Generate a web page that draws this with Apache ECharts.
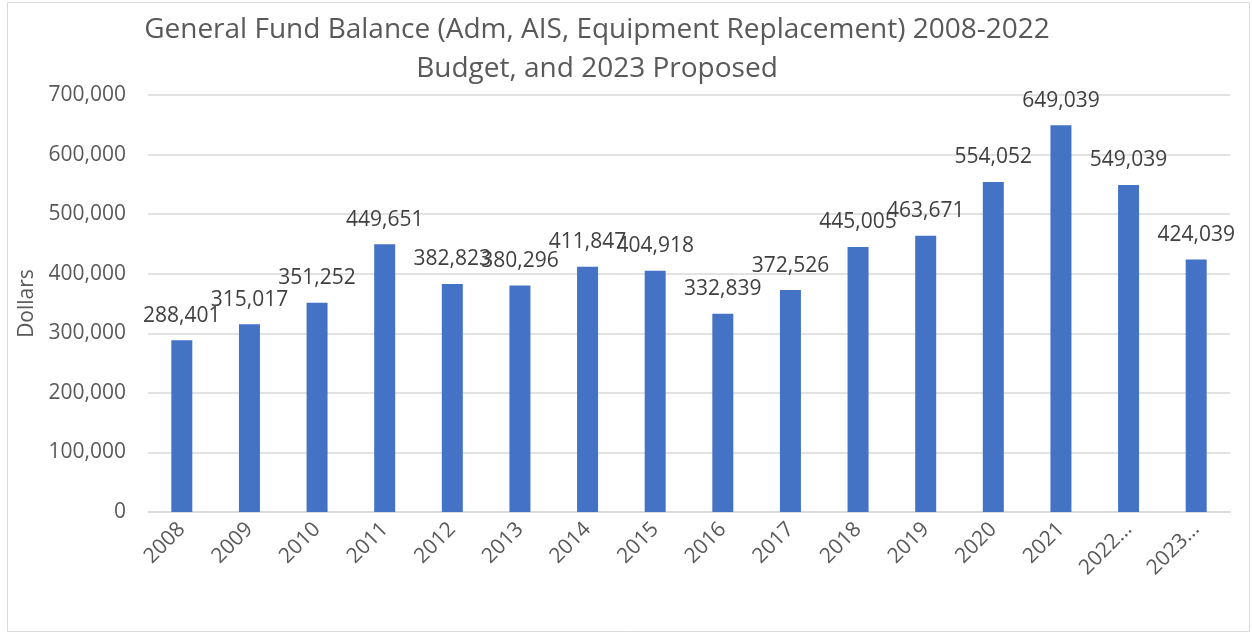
<!DOCTYPE html>
<html>
<head>
<meta charset="utf-8">
<script src="https://cdn.jsdelivr.net/npm/echarts@6/dist/echarts.min.js"></script>
<style>
html, body { margin: 0; padding: 0; background: #fff; }
#main { width: 1252px; height: 634px; }
</style>
</head>
<body>
<div id="main"></div>
<script>
// 年份（最后两项在原图里被截断）
var years = ['2008', '2009', '2010', '2011', '2012', '2013', '2014', '2015',
    '2016', '2017', '2018', '2019', '2020', '2021', '2022…', '2023…'];
// 余额
var balance = [288401, 315017, 351252, 449651, 382823, 380296, 411847, 404918,
    332839, 372526, 445005, 463671, 554052, 649039, 549039, 424039];

var fontName = '"Open Sans", "Liberation Sans", sans-serif';

function fmt(v) {
    return String(v).replace(/\B(?=(\d{3})+(?!\d))/g, ',');
}

var option = {
    backgroundColor: '#fff',
    animation: false,
    title: {
        text: 'General Fund Balance (Adm, AIS, Equipment Replacement) 2008-2022\nBudget, and 2023 Proposed',
        left: 592,
        top: 6,
        textAlign: 'center',
        textStyle: {
            color: '#595959',
            fontFamily: fontName,
            fontWeight: 'normal',
            fontSize: 28,
            lineHeight: 39
        }
    },
    graphic: [{
        type: 'rect',
        shape: { x: 7.5, y: 2.5, width: 1242, height: 629 },
        style: { fill: 'none', stroke: '#d9d9d9', lineWidth: 1 },
        silent: true
    }],
    grid: {
        left: 148,
        right: 22,
        top: 95,
        bottom: 122
    },
    xAxis: {
        type: 'category',
        data: years,
        axisTick: { show: false },
        axisLine: { lineStyle: { color: '#d9d9d9', width: 1.5 } },
        axisLabel: {
            rotate: 45,
            interval: 0,
            margin: 14,
            color: '#595959',
            fontFamily: fontName,
            fontSize: 21
        }
    },
    yAxis: {
        type: 'value',
        min: 0,
        max: 700000,
        interval: 100000,
        name: 'Dollars',
        nameLocation: 'middle',
        nameGap: 106,
        nameRotate: 90,
        nameTextStyle: {
            color: '#595959',
            fontFamily: fontName,
            fontSize: 21
        },
        axisLine: { show: false },
        axisTick: { show: false },
        splitLine: { lineStyle: { color: '#d9d9d9', width: 1.5 } },
        axisLabel: {
            margin: 22,
            color: '#595959',
            fontFamily: fontName,
            fontSize: 21,
            formatter: function (v) { return fmt(v); }
        }
    },
    series: [{
        type: 'bar',
        data: balance,
        barWidth: 21,
        itemStyle: { color: '#4472C4' },
        label: {
            show: true,
            position: 'top',
            distance: 14,
            color: '#404040',
            fontFamily: fontName,
            fontSize: 21,
            formatter: function (p) { return fmt(p.value); }
        }
    }]
};

var myChart = echarts.init(document.getElementById('main'));
myChart.setOption(option);
</script>
</body>
</html>
